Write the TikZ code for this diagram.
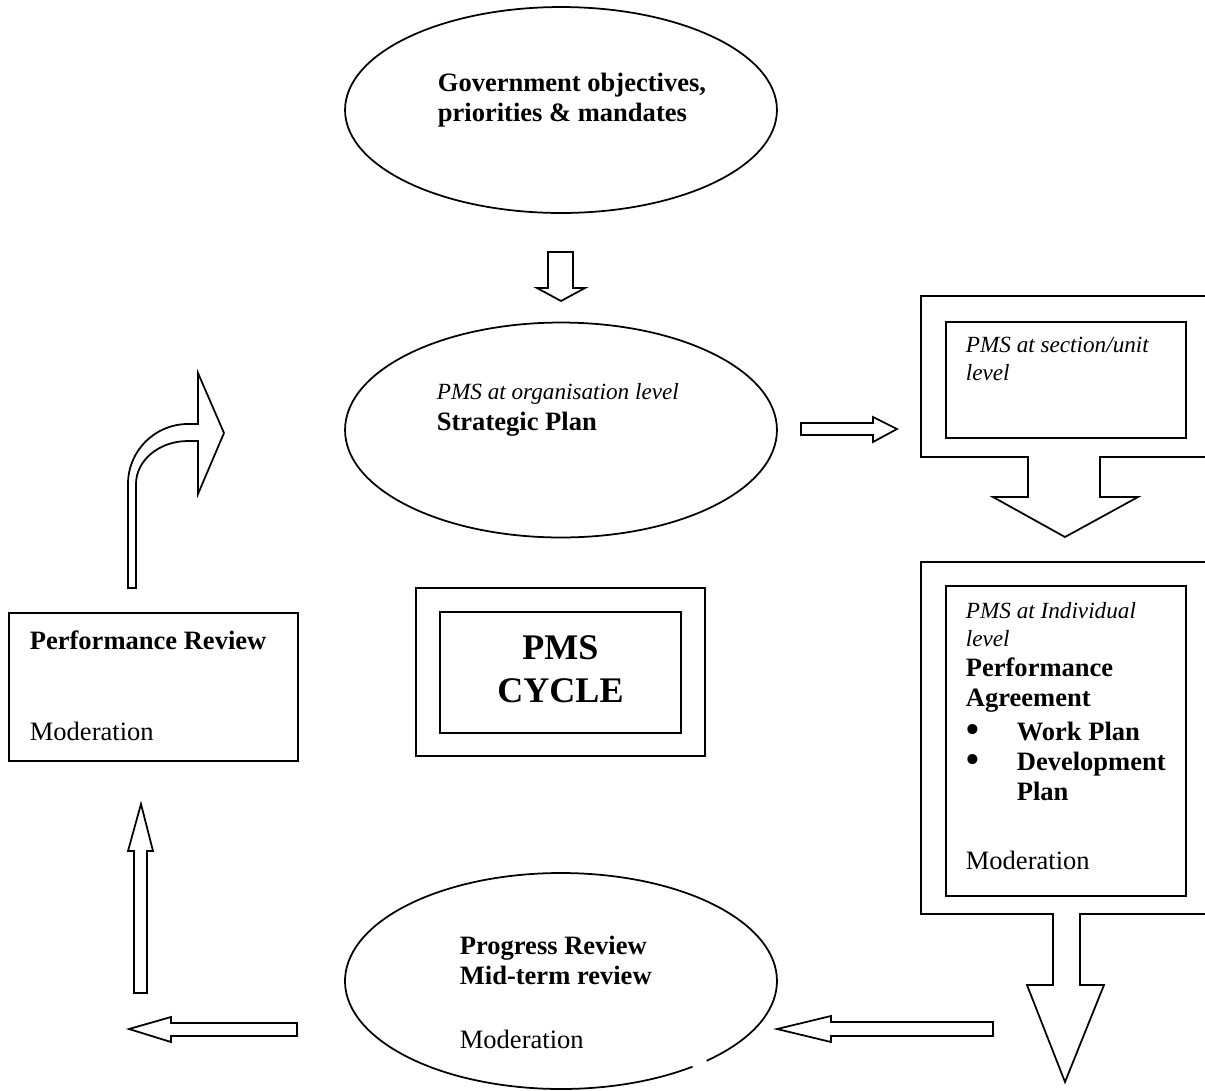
\documentclass[tikz,border=0pt]{standalone}
\usepackage{fontspec}
\setmainfont{Liberation Serif}
\usetikzlibrary{shapes.geometric}

\newcommand\lvl[1]{{\fontsize{13.2}{15.3}\selectfont\itshape #1}}
\newcommand\blt{\makebox[1.02cm][l]{\fontsize{24}{24}\selectfont\raisebox{-1.6pt}{\textbullet}}}

\begin{document}
\begin{tikzpicture}
	[x=0.02cm,y=-0.02cm,line width=1pt,
	 oval/.style={ellipse, draw, minimum width=8.64cm, minimum height=4.12cm},
	 box/.style={rectangle, draw, inner sep=0pt},
	 txt/.style={inner sep=0pt, anchor=north west, align=left, font=\fontsize{15.1}{17.2}\selectfont},
	 blockarrow/.style={draw, fill=white, line join=miter}]
	\useasboundingbox (0,0) rectangle (1205,1090);
	\clip (0,0) rectangle (1205,1090);

	\node[oval] (gov) at (561,110) {};
	\node[oval, minimum height=4.3cm] (org) at (561,430) {};
	\node[oval, minimum height=4.32cm, draw=none] (prog) at (561,981) {};
	\draw (prog.center) ++(52.5:216 and 108) arc[start angle=52.5, end angle=407.6, x radius=216, y radius=108];

	\node[txt] (govtext) at (437,72) {\textbf{Government objectives,}\\ \textbf{priorities \& mandates}};
	\node[txt] (orgtext) at (436,383) {\lvl{PMS at organisation level}\\ \textbf{Strategic Plan}};
	\node[txt] (progtext) at (459,935) {\textbf{Progress Review}\\ \textbf{Mid-term review}\\[19pt] Moderation};

	\draw[blockarrow] (921,296) -- (1215,296) -- (1215,457) -- (1100,457) -- (1100,497) -- (1138,497) -- (1065,537) -- (993,497) -- (1028,497) -- (1028,457) -- (921,457) -- cycle;
	\node[box, minimum width=4.8cm, minimum height=2.32cm, anchor=north west] (sec) at (945,321) {};
	\node[txt] (sectext) at (965,336) {\lvl{PMS at section/unit}\\[-1.3pt] \lvl{level}};

	\draw[blockarrow] (921,562) -- (1215,562) -- (1215,914) -- (1080,914) -- (1080,985) -- (1104,985) -- (1065,1082) -- (1027,985) -- (1053,985) -- (1053,914) -- (921,914) -- cycle;
	\node[box, minimum width=4.8cm, minimum height=6.2cm, anchor=north west] (ind) at (945,585) {};
	\node[txt] (indtext) at (965,602) {\lvl{PMS at Individual}\\[-1.7pt] \lvl{level}\\ \textbf{Performance}\\ \textbf{Agreement}\\[2pt]
		\blt\textbf{Work Plan}\\ \blt\textbf{Development}\\
		\hspace*{1.02cm}\textbf{Plan}\\[22pt] Moderation};

	\node[box, minimum width=5.78cm, minimum height=2.96cm, anchor=north west] (perf) at (8,612) {};
	\node[txt] (perftext) at (29,630) {\textbf{Performance Review}\\[34.6pt] Moderation};

	\node[box, minimum width=5.78cm, minimum height=3.36cm] (cyc) at (560.5,672) {};
	\node[box, minimum width=4.82cm, minimum height=2.42cm] (cycin) at (560.5,672.5) {};
	\node[inner sep=0pt, align=center, anchor=north, font=\fontsize{20.5}{24.5}\selectfont\bfseries] (cyctext) at (560.5,635) {PMS\\ CYCLE};

	\draw[blockarrow] (548,252) -- (573,252) -- (573,288) -- (585,288) -- (561,301) -- (537,288) -- (548,288) -- cycle;
	\draw[blockarrow] (801,423) -- (873,423) -- (873,417) -- (897,429) -- (873,442) -- (873,435) -- (801,435) -- cycle;
	\draw[blockarrow] (128,588) -- (128,484) arc[start angle=180, end angle=270, x radius=60, y radius=60] -- (198,424) -- (198,373) -- (224,433) -- (198,494) -- (198,441) -- (188,441) arc[start angle=270, end angle=180, x radius=52, y radius=43] -- (136,588) -- cycle;
	\draw[blockarrow] (134,993) -- (134,851) -- (128,851) -- (141,804) -- (153,851) -- (147,851) -- (147,993) -- cycle;
	\draw[blockarrow] (297,1023) -- (171,1023) -- (171,1017) -- (129,1029) -- (171,1042) -- (171,1036) -- (297,1036) -- cycle;
	\draw[blockarrow] (993,1022) -- (831,1022) -- (831,1016) -- (777,1029) -- (831,1042) -- (831,1036) -- (993,1036) -- cycle;
\end{tikzpicture}
\end{document}
